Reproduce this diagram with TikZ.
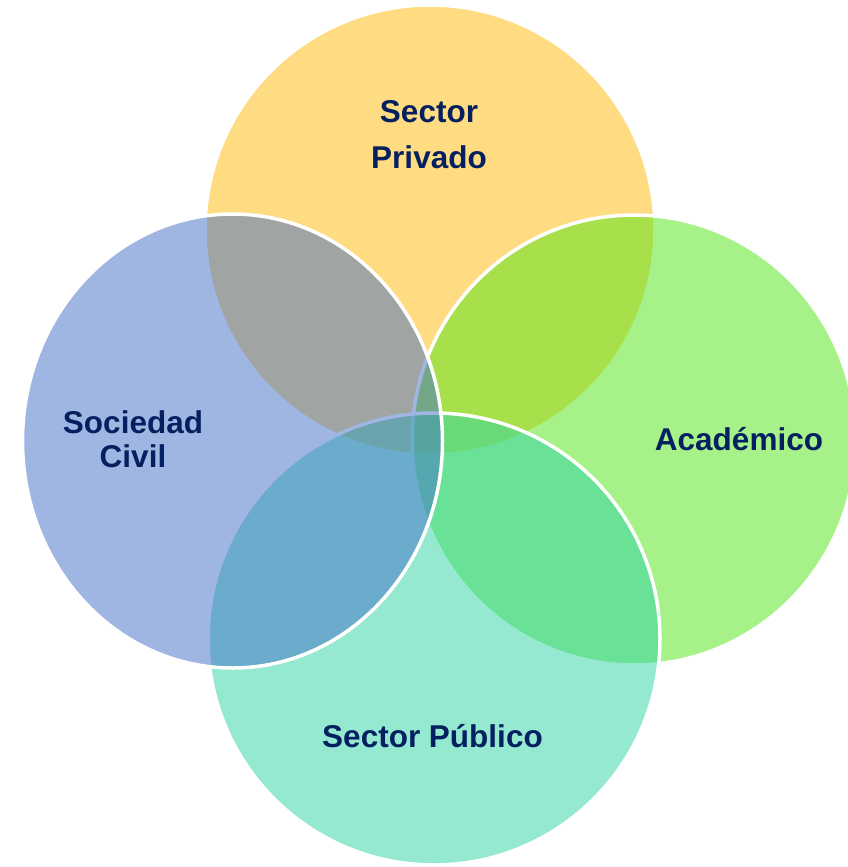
\documentclass[tikz,border=0pt]{standalone}
\usepackage{fontspec}
\setmainfont{Liberation Sans}
\definecolor{cyel}{RGB}{255,187,5}
\definecolor{cgrn}{RGB}{81,229,21}
\definecolor{cteal}{RGB}{45,213,165}
\definecolor{cblue}{RGB}{67,111,199}
\definecolor{ctext}{RGB}{4,32,96}
\begin{document}
\begin{tikzpicture}[x=1pt,y=-1pt,
  ring/.style={draw=white, line width=3.5pt, fill opacity=0.5},
  lbl/.style={font=\fontsize{31.5}{38}\selectfont\bfseries, text=ctext, anchor=base, inner sep=0pt}]
\useasboundingbox (0,0) rectangle (848,867);
\clip (0,0) rectangle (848,867);
\fill[white] (0,0) rectangle (848,867);
\path[ring, fill=cyel] (430,230) circle[radius=225pt];
\path[ring, fill=cgrn] (634,440) ellipse[x radius=222pt, y radius=225pt];
\path[ring, fill=cteal] (434,639) circle[radius=226pt];
\path[ring, fill=cblue] (232.5,441) ellipse[x radius=210pt, y radius=227pt];
\node[lbl] (sp1) at (429,122) {Sector};
\node[lbl] (sp2) at (429,168) {Privado};
\node[lbl] (sc1) at (133,433) {Sociedad};
\node[lbl] (sc2) at (133,467) {Civil};
\node[lbl] (ac) at (739,450) {Académico};
\node[lbl] (pu) at (432.5,747) {Sector Público};
\end{tikzpicture}
\end{document}
